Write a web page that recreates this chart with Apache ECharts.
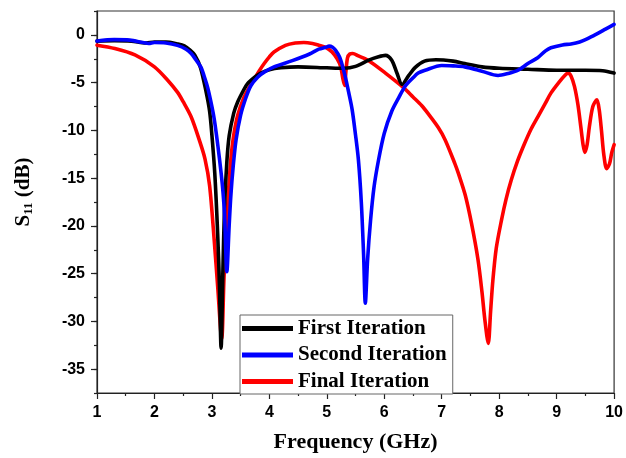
<!DOCTYPE html>
<html>
<head>
<meta charset="utf-8">
<script src="https://cdn.jsdelivr.net/npm/echarts@6/dist/echarts.min.js"></script>
<style>
html,body{margin:0;padding:0;background:#fff;}
#chart{width:626px;height:458px;}
</style>
</head>
<body>
<div id="chart"></div>
<script>
// ---- data (frequency in GHz, S11 in dB) ----
const seriesNames = ['First Iteration', 'Second Iteration', 'Final Iteration'];

const freqFirst = [1.0,1.3,1.6,1.85,2.0,2.2,2.4,2.52,2.62,2.7,2.8,2.9,2.96,3.0,3.05,3.1,3.13,3.16,3.19,3.22,3.26,3.3,3.38,3.45,3.55,3.62,3.75,3.85,4.0,4.2,4.5,5.0,5.3,5.5,5.73,5.9,6.02,6.13,6.22,6.31,6.42,6.54,6.7,6.9,7.2,7.4,7.7,8.0,8.5,9.0,9.5,9.8,10.0];
const s11First = [-0.65,-0.6,-0.65,-0.85,-0.75,-0.75,-0.95,-1.15,-1.6,-2.1,-3.4,-6.0,-8.0,-10.5,-14.5,-20.8,-26,-32.8,-25,-18,-13.3,-10.6,-8.2,-7.0,-5.8,-5.1,-4.4,-4.0,-3.65,-3.45,-3.35,-3.45,-3.5,-3.3,-2.65,-2.3,-2.15,-2.65,-4.0,-5.2,-4.3,-3.4,-2.75,-2.6,-2.75,-3.0,-3.35,-3.5,-3.6,-3.7,-3.7,-3.75,-4.0];

const freqSecond = [1.0,1.3,1.57,1.8,1.9,2.0,2.2,2.4,2.55,2.64,2.72,2.81,2.88,2.93,3.0,3.04,3.08,3.13,3.18,3.22,3.26,3.3,3.33,3.37,3.42,3.5,3.59,3.68,3.8,3.91,4.08,4.4,4.7,4.86,4.98,5.04,5.1,5.15,5.22,5.27,5.33,5.38,5.44,5.5,5.55,5.6,5.64,5.67,5.71,5.76,5.82,5.9,6.0,6.13,6.25,6.36,6.5,6.59,6.71,7.0,7.2,7.4,7.7,7.98,8.15,8.33,8.5,8.67,8.8,8.9,9.1,9.25,9.4,9.54,9.7,9.85,10.0];
const s11Second = [-0.65,-0.5,-0.55,-0.8,-0.9,-0.8,-0.85,-1.1,-1.5,-1.95,-2.6,-3.4,-4.6,-5.6,-7.5,-8.8,-10.5,-12.9,-15.6,-18.8,-24.8,-20,-16.8,-13.8,-11.0,-8.4,-6.6,-5.3,-4.4,-3.9,-3.35,-2.7,-2.0,-1.5,-1.3,-1.18,-1.3,-1.6,-2.3,-3.2,-4.6,-6.0,-7.8,-10.5,-13.1,-17.5,-23,-28.1,-23.5,-19.5,-16,-13.1,-10.3,-8.0,-6.6,-5.4,-4.5,-4.0,-3.7,-3.2,-3.25,-3.35,-3.8,-4.25,-4.05,-3.7,-3.0,-2.4,-1.7,-1.35,-1.05,-0.95,-0.75,-0.4,0.1,0.6,1.1];

const freqFinal = [1.0,1.31,1.66,2.0,2.23,2.4,2.5,2.64,2.78,2.88,2.96,3.04,3.1,3.17,3.21,3.25,3.29,3.33,3.38,3.45,3.56,3.65,3.74,3.82,3.91,4.0,4.08,4.28,4.45,4.6,4.75,4.86,4.98,5.09,5.18,5.24,5.28,5.31,5.33,5.36,5.4,5.45,5.55,5.73,6.02,6.33,6.5,6.65,6.77,6.94,7.06,7.23,7.29,7.41,7.52,7.63,7.7,7.75,7.81,7.85,7.89,7.95,8.04,8.12,8.21,8.32,8.44,8.56,8.67,8.8,8.9,9.05,9.15,9.2,9.25,9.31,9.37,9.42,9.46,9.49,9.53,9.57,9.63,9.7,9.74,9.78,9.82,9.87,9.92,9.96,10.0];
const s11Final = [-1.08,-1.43,-2.1,-3.35,-4.75,-6.0,-7.0,-8.6,-11.0,-13.0,-15.8,-21.5,-26.3,-31.8,-25.5,-20.5,-16.3,-13.0,-10.5,-8.4,-6.5,-5.5,-4.6,-3.8,-3.0,-2.3,-1.8,-1.1,-0.85,-0.8,-0.9,-1.08,-1.3,-1.78,-2.5,-3.3,-4.6,-5.3,-4.0,-2.4,-2.0,-1.95,-2.2,-2.7,-4.0,-5.5,-6.5,-7.4,-8.3,-9.7,-11,-13.5,-14.5,-16.8,-19.8,-23.5,-26.9,-29.8,-32.3,-29,-25.7,-22.3,-19.4,-17.2,-15.2,-13.2,-11.4,-9.8,-8.6,-7.2,-6.1,-4.9,-4.2,-4.0,-4.3,-5.4,-7.3,-9.6,-11.5,-12.3,-11.5,-9.6,-7.5,-6.8,-7.8,-10,-12.5,-14.0,-13.5,-12.3,-11.5];

const xTicks = [1,2,3,4,5,6,7,8,9,10];
const yTicks = [-35,-30,-25,-20,-15,-10,-5,0];
const colors = ['#000000', '#0000ff', '#ff0000'];

function pairs(xs, ys) { return xs.map((x, i) => [x, ys[i]]); }

const chart = echarts.init(document.getElementById('chart'), null, {renderer: 'canvas'});
const labelFont = {fontFamily: 'Liberation Sans, Arial, sans-serif', fontWeight: 'bold', fontSize: 16, color: '#000'};
const serif = 'Liberation Serif, Times New Roman, serif';

function lineSeries(name, data, color, z) {
  return {
    name: name, type: 'line', data: data, showSymbol: false, symbol: 'none',
    smooth: 0.3, z: z,
    lineStyle: {color: color, width: 3.6, cap: 'round', join: 'round'},
    itemStyle: {color: color}
  };
}

chart.setOption({
  animation: false,
  backgroundColor: '#ffffff',
  grid: {left: 97, right: 9, top: 11, bottom: 65, show: true, borderColor: '#333', borderWidth: 1.2, backgroundColor: 'transparent'},
  legend: {
    data: seriesNames, orient: 'vertical', left: 240, top: 315,
    backgroundColor: '#ffffff', borderColor: '#666', borderWidth: 1,
    padding: [3, 6, 2, 2], itemGap: 5.5, itemWidth: 51, itemHeight: 5, icon: 'rect',
    textStyle: {fontFamily: serif, fontWeight: 'bold', fontSize: 21, lineHeight: 20, color: '#000'},
    z: 10
  },
  xAxis: {
    type: 'value', min: 1, max: 10, interval: 1,
    name: 'Frequency (GHz)', nameLocation: 'middle', nameGap: 38,
    nameTextStyle: {fontFamily: serif, fontWeight: 'bold', fontSize: 22, color: '#000'},
    axisLine: {show: true, onZero: false, lineStyle: {color: '#222', width: 1.2}},
    axisTick: {show: true, inside: false, length: 6, lineStyle: {color: '#222', width: 1.2}},
    minorTick: {show: true, splitNumber: 2, length: 3, lineStyle: {color: '#222', width: 1.2}},
    splitLine: {show: false},
    axisLabel: Object.assign({margin: 12, customValues: xTicks}, labelFont)
  },
  yAxis: [{
    type: 'value', min: -37.5, max: 2.5, interval: 2.5,
    name: '{s|S}{sub|11}{s| (dB)}', nameLocation: 'middle', nameGap: 62,
    nameTextStyle: {
      padding: [0, 0, 0, 20],
      rich: {
        s: {fontFamily: serif, fontWeight: 'bold', fontSize: 21, color: '#000'},
        sub: {fontFamily: serif, fontWeight: 'bold', fontSize: 13, color: '#000', padding: [9, 0, 0, 0]}
      }
    },
    axisLine: {show: true, onZero: false, lineStyle: {color: '#222', width: 1.2}},
    axisTick: {show: true, inside: false, length: 6, customValues: yTicks, lineStyle: {color: '#222', width: 1.2}},
    splitLine: {show: false},
    axisLabel: Object.assign({margin: 12, customValues: yTicks,
      formatter: v => (Math.abs(v % 5) < 1e-9 ? String(v) : '')}, labelFont)
  }, {
    type: 'value', min: -37.5, max: 2.5, interval: 2.5, position: 'left', offset: 0,
    axisLine: {show: false},
    axisTick: {show: true, inside: false, length: 3, lineStyle: {color: '#222', width: 1.2}},
    axisLabel: {show: false}, splitLine: {show: false}
  }],
  series: [
    lineSeries(seriesNames[2], pairs(freqFinal, s11Final), colors[2], 2),
    lineSeries(seriesNames[0], pairs(freqFirst, s11First), colors[0], 3),
    lineSeries(seriesNames[1], pairs(freqSecond, s11Second), colors[1], 4)
  ]
});
</script>
</body>
</html>
